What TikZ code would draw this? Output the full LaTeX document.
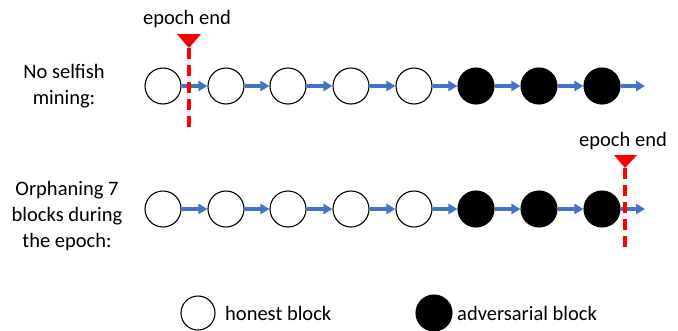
\documentclass[tikz,border=0pt]{standalone}
\usepackage{fontspec}
\setmainfont{Carlito}
\usetikzlibrary{arrows.meta}
\definecolor{chainblue}{RGB}{68,114,196}
\definecolor{epochred}{RGB}{255,0,0}
\tikzset{
  blk/.style={circle,draw=black,line width=1.1pt,minimum size=36pt,inner sep=0pt},
  honest/.style={blk,fill=white},
  adv/.style={blk,fill=black},
  link/.style={draw=chainblue,line width=3.5pt,-{Triangle[length=9pt,width=10pt]}},
  epochline/.style={draw=epochred,line width=3.5pt,dash pattern=on 11pt off 6pt},
  epochmark/.style={fill=epochred,draw=none},
  lbl/.style={font=\fontsize{20.5pt}{26pt}\selectfont,align=center,inner sep=0pt},
}
\begin{document}
\begin{tikzpicture}[x=1pt,y=-1pt]
\useasboundingbox (0,0) rectangle (678,330);
% row 1
\foreach \i/\x/\s in {1/163/honest,2/226/honest,3/288/honest,4/351/honest,5/414/honest,6/476/adv,7/539/adv,8/602/adv}{
  \node[\s] (a\i) at (\x,86) {};
}
\coordinate (aend) at (645,86);
\foreach \i/\j in {1/2,2/3,3/4,4/5,5/6,6/7,7/8}{
  \draw[link] (a\i) -- (a\j);
}
\draw[link] (a8) -- (aend);
\node[lbl] (l1) at (64,86) {No selfish\\mining:};
% epoch end 1
\coordinate (e1top) at (189,48);
\coordinate (e1bot) at (189,132);
\draw[epochline] (e1top) -- (e1bot);
\fill[epochmark] (177,34) -- (201,34) -- (189,48) -- cycle;
\node[lbl] (t1) at (187,19) {epoch end};
% row 2
\foreach \i/\x/\s in {1/163/honest,2/226/honest,3/288/honest,4/351/honest,5/414/honest,6/476/adv,7/539/adv,8/602/adv}{
  \node[\s] (b\i) at (\x,209) {};
}
\coordinate (bend) at (645,209);
\foreach \i/\j in {1/2,2/3,3/4,4/5,5/6,6/7,7/8}{
  \draw[link] (b\i) -- (b\j);
}
\draw[link] (b8) -- (bend);
\node[lbl] (l2) at (67,216) {Orphaning 7\\blocks during\\the epoch:};
% epoch end 2
\coordinate (e2top) at (625,168);
\coordinate (e2bot) at (625,252);
\draw[epochline] (e2top) -- (e2bot);
\fill[epochmark] (614,155) -- (637,155) -- (625,168) -- cycle;
\node[lbl] (t2) at (623,141) {epoch end};
% legend
\node[honest,minimum size=34pt] (lh) at (198,313) {};
\node[lbl,anchor=west] (lht) at (225,313) {honest block};
\node[adv] (la) at (434,313) {};
\node[lbl,anchor=west] (lat) at (457,313) {adversarial block};
\end{tikzpicture}
\end{document}
